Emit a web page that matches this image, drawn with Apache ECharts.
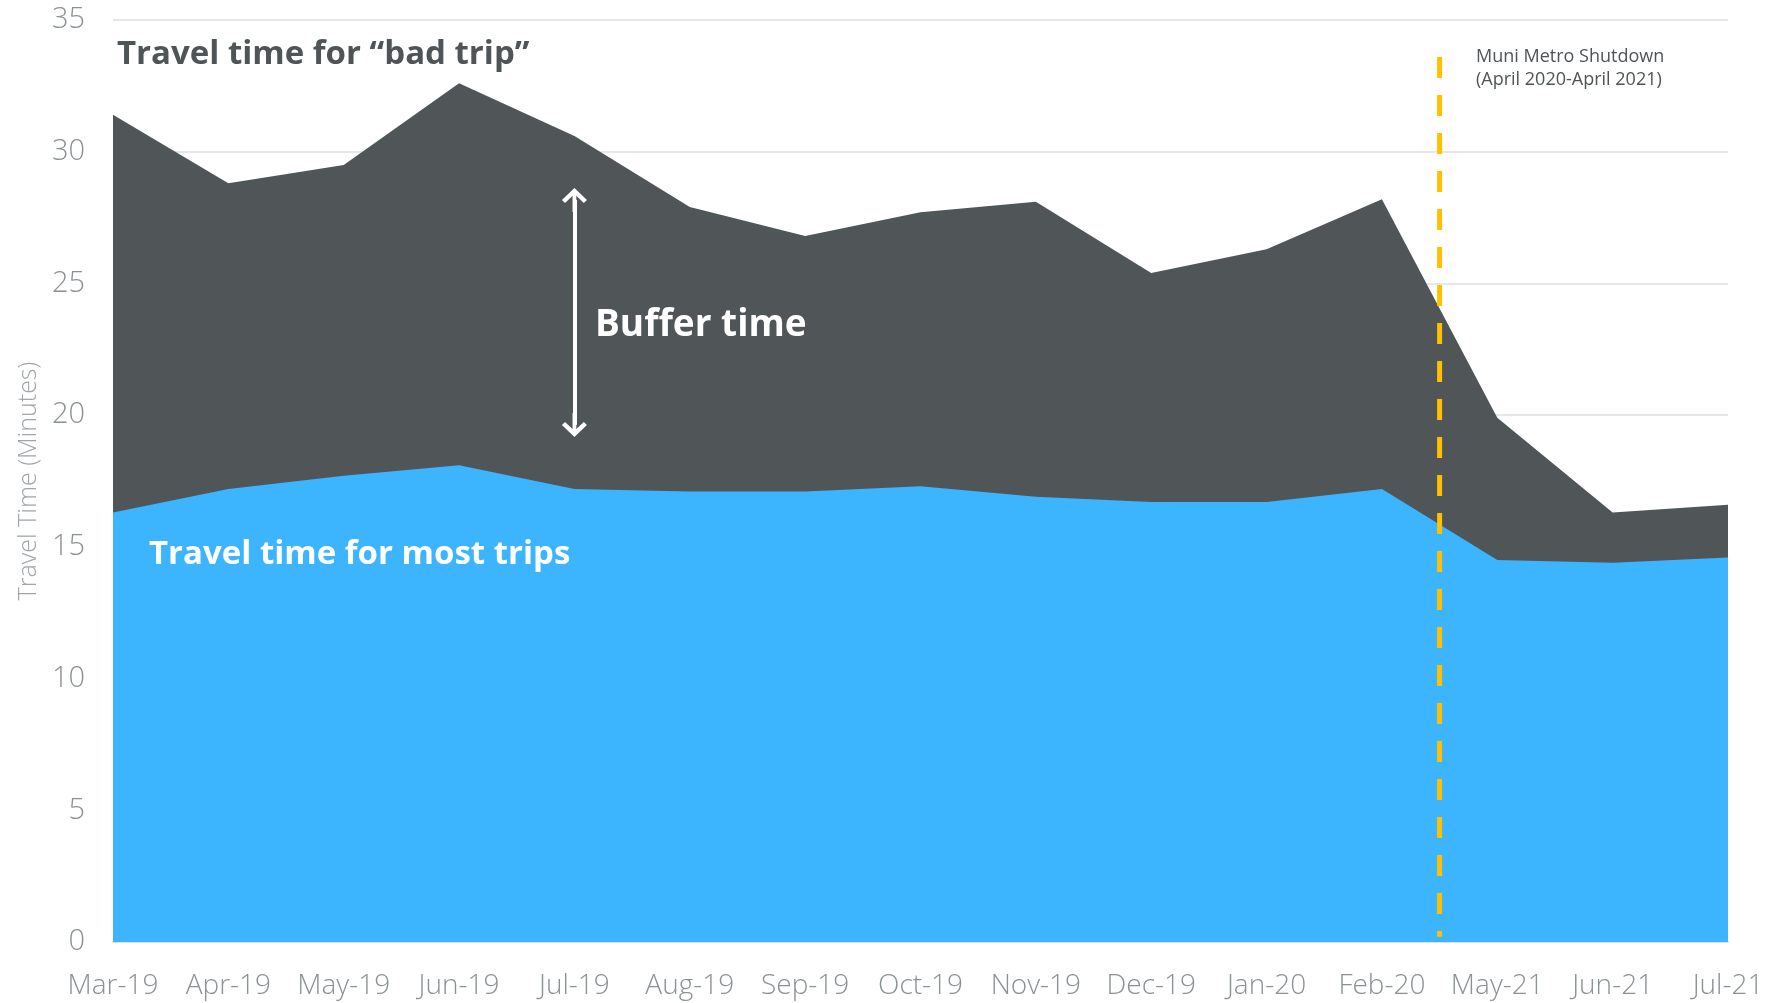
<!DOCTYPE html>
<html>
<head>
<meta charset="utf-8">
<script src="https://cdn.jsdelivr.net/npm/echarts@6/dist/echarts.min.js"></script>
<style>
html,body{margin:0;padding:0;background:#fff;}
#chart{width:1771px;height:1003px;}
</style>
</head>
<body>
<div id="chart"></div>
<script>
const months = ['Mar-19','Apr-19','May-19','Jun-19','Jul-19','Aug-19','Sep-19','Oct-19','Nov-19','Dec-19','Jan-20','Feb-20','May-21','Jun-21','Jul-21'];
const badTrip = [31.4, 28.8, 29.5, 32.6, 30.6, 27.9, 26.8, 27.7, 28.1, 25.4, 26.3, 28.2, 19.9, 16.3, 16.6];
const mostTrips = [16.3, 17.2, 17.7, 18.1, 17.2, 17.1, 17.1, 17.3, 16.9, 16.7, 16.7, 17.2, 14.5, 14.4, 14.6];
const yTicks = [0, 5, 10, 15, 20, 25, 30, 35];
// Shutdown marker sits midway between Feb-20 (index 11) and May-21 (index 12)
const shutdownPos = 11.5;
const shutdownRange = [33.6, 0.2];
// Buffer-time arrow (category, upper value, lower value)
const bufferArrowCat = 'Jul-19';
const bufferArrowRange = [28.17, 19.63];

const FONT = '"Open Sans", "Noto Sans", sans-serif';
const chevron = 'path://M10,0 L20,10 L17.5,12.5 L11.5,6.5 L11.5,20 L8.5,20 L8.5,6.5 L2.5,12.5 L0,10 Z';

const chart = echarts.init(document.getElementById('chart'), null, {renderer: 'canvas'});
chart.setOption({
  animation: false,
  backgroundColor: '#ffffff',
  grid: {left: 113, right: 43, top: 20, bottom: 61, containLabel: false},
  xAxis: [{
    type: 'category',
    data: months,
    boundaryGap: false,
    axisLine: {show: true, lineStyle: {color: '#dcdfe0', width: 2}},
    axisTick: {show: false},
    axisLabel: {color: '#8b9295', fontSize: 28, fontFamily: FONT, fontWeight: 300, margin: 30, interval: 0},
    splitLine: {show: false}
  }, {
    type: 'value', min: 0, max: months.length - 1, show: false
  }],
  yAxis: {
    type: 'value',
    min: yTicks[0], max: yTicks[yTicks.length - 1], interval: yTicks[1] - yTicks[0],
    name: 'Travel Time (Minutes)',
    nameLocation: 'middle',
    nameGap: 72,
    nameTextStyle: {color: '#a0a6a9', fontSize: 25, fontFamily: FONT, fontWeight: 300},
    axisLine: {show: false},
    axisTick: {show: false},
    axisLabel: {color: '#8b9295', fontSize: 29, fontFamily: FONT, fontWeight: 300, margin: 28},
    splitLine: {show: true, lineStyle: {color: '#e6e7e8', width: 2}}
  },
  series: [{
    name: 'Travel time for "bad trip"',
    type: 'line',
    data: badTrip,
    symbol: 'none',
    lineStyle: {width: 0},
    areaStyle: {color: '#505557', opacity: 1},
    z: 2
  }, {
    name: 'Travel time for most trips',
    type: 'line',
    data: mostTrips,
    symbol: 'none',
    lineStyle: {width: 0},
    areaStyle: {color: '#3cb4fe', opacity: 1},
    z: 3,
    markLine: {
      silent: true,
      symbol: [chevron, chevron],
      symbolSize: [25, 24],
      label: {show: false},
      lineStyle: {color: '#ffffff', width: 4, type: 'solid'},
      data: [[{coord: [bufferArrowCat, bufferArrowRange[0]]}, {coord: [bufferArrowCat, bufferArrowRange[1]]}]],
      z: 10
    }
  }, {
    name: 'Shutdown',
    type: 'line',
    xAxisIndex: 1,
    data: [[shutdownPos, shutdownRange[0]], [shutdownPos, shutdownRange[1]]],
    symbol: 'none',
    lineStyle: {color: '#ffc000', width: 5, type: [21, 17]},
    z: 5
  }],
  graphic: [{
    type: 'text', left: 117, top: 38, z: 20,
    style: {text: 'Travel time for \u201cbad trip\u201d', fill: '#4f5457', font: 'bold 33px ' + FONT}
  }, {
    type: 'text', left: 595, top: 307, z: 20,
    style: {text: 'Buffer time', fill: '#ffffff', font: 'bold 37px ' + FONT}
  }, {
    type: 'text', left: 149, top: 538, z: 20,
    style: {text: 'Travel time for most trips', fill: '#ffffff', font: 'bold 33px ' + FONT}
  }, {
    type: 'text', left: 1476, top: 45, z: 20,
    style: {text: 'Muni Metro Shutdown\n(April 2020-April 2021)', fill: '#4f5457', font: '18px ' + FONT, lineHeight: 23}
  }]
});
</script>
</body>
</html>
